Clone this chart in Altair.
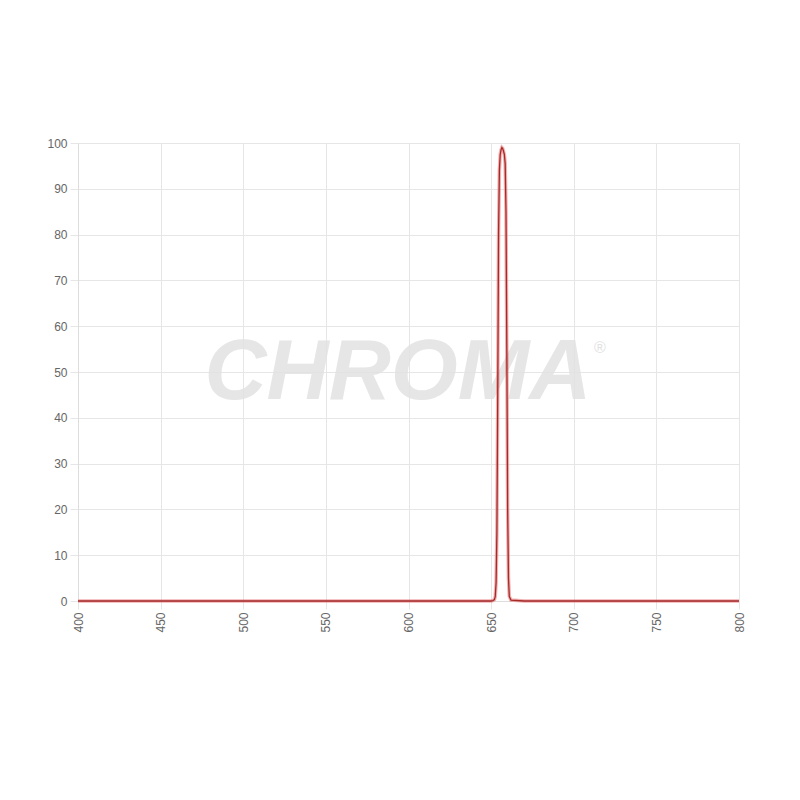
import altair as alt
import pandas as pd

wavelength = [400, 600, 640, 650, 651, 652, 652.5, 653, 653.5, 654, 654.5, 655, 655.5,
              656, 656.5, 657, 657.5, 658, 658.5, 659, 659.5, 660, 660.5, 661, 662,
              670, 700, 800]
transmission = [0, 0, 0, 0, 0.1, 0.3, 1, 4, 15, 45, 80, 94, 97.5,
                98.5, 99, 98.8, 98.2, 97.5, 95.5, 85, 55, 20, 5, 1, 0.2,
                0, 0, 0]

x_ticks = [400, 450, 500, 550, 600, 650, 700, 750, 800]
y_ticks = [0, 10, 20, 30, 40, 50, 60, 70, 80, 90, 100]

df = pd.DataFrame({"wl": wavelength, "t": transmission})

x = alt.X("wl:Q", scale=alt.Scale(domain=[400, 800], nice=False, zero=False),
          axis=alt.Axis(values=x_ticks, title=None, labelAngle=-90, labelAlign="right",
                        labelBaseline="middle", labelColor="#666", labelFontSize=12,
                        labelFont="Liberation Sans", gridColor="#e6e6e6",
                        domainColor="#dddddd", tickColor="#e6e6e6", tickSize=8,
                        labelPadding=3))
y = alt.Y("t:Q", scale=alt.Scale(domain=[0, 100], nice=False),
          axis=alt.Axis(values=y_ticks, title=None, labelColor="#666", labelFontSize=12,
                        labelFont="Liberation Sans", gridColor="#e6e6e6",
                        domainColor="#dddddd", tickColor="#e6e6e6", tickSize=8,
                        labelPadding=3))

watermark = alt.Chart(pd.DataFrame({"s": ["CHROMA"]})).mark_text(
    font="Liberation Sans", fontSize=86, fontWeight="bold", fontStyle="italic",
    color="#e2e2e2", opacity=0.85, align="center", baseline="middle"
).encode(text="s:N", x=alt.value(320), y=alt.value(230))

reg = alt.Chart(pd.DataFrame({"s": ["®"]})).mark_text(
    font="Liberation Sans", fontSize=16, color="#e2e2e2", align="center", baseline="middle"
).encode(text="s:N", x=alt.value(522), y=alt.value(205))

halo = alt.Chart(df).mark_line(color="#e87070", strokeWidth=3.5, opacity=0.55).encode(x=x, y=y)
line = alt.Chart(df).mark_line(color="#a52a2a", strokeWidth=1.3).encode(x=x, y=y)

chart = alt.layer(watermark, reg, halo, line).properties(
    width=661, height=458,
    autosize=alt.AutoSizeParams(type="none"),
    padding={"left": 70, "top": 135, "right": 30, "bottom": 180},
    background="white"
).configure_view(stroke=None)

chart.save("out.html", embed_options={"renderer": "svg", "actions": False})
